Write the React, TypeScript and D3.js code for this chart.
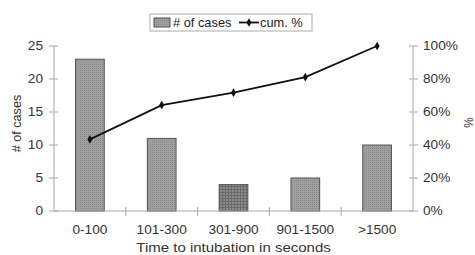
import React from 'react';
import * as d3 from 'd3';

const categories = ['0-100', '101-300', '301-900', '901-1500', '>1500'];
const cases = [23, 11, 4, 5, 10];
const cumPct = [43.4, 64.2, 71.7, 81.1, 100];
const leftTicks = [0, 5, 10, 15, 20, 25];
const rightTicks = [0, 20, 40, 60, 80, 100];

const W = 475;
const H = 255;
const margin = { top: 46, right: 62, bottom: 44, left: 54 };

const font = 'Liberation Sans, Arial, sans-serif';

// text with a slight horizontal stretch, like the scanned original
const label = (g, x, y, s, anchor, size = 12, sx = 1.14) =>
  g.append('text')
    .attr('transform', `translate(${x},${y}) scale(${sx},1)`)
    .attr('text-anchor', anchor)
    .attr('dy', '0.35em')
    .attr('font-family', font)
    .attr('font-size', size)
    .attr('fill', '#333')
    .text(s);

const App = () => {
  const svgRef = React.useRef(null);

  React.useEffect(() => {
    const svg = d3.select(svgRef.current);
    svg.selectAll('*').remove();

    const x0 = margin.left;
    const x1 = W - margin.right;
    const y0 = H - margin.bottom;
    const y1 = margin.top;

    const x = d3.scaleBand().domain(categories).range([x0, x1]).padding(0);
    const yL = d3.scaleLinear().domain([0, 25]).range([y0, y1]);
    const yR = d3.scaleLinear().domain([0, 100]).range([y0, y1]);

    const axisColor = '#a8a8a8';

    const defs = svg.append('defs');
    const pat = defs.append('pattern')
      .attr('id', 'dots').attr('width', 2).attr('height', 2)
      .attr('patternUnits', 'userSpaceOnUse');
    pat.append('rect').attr('width', 2).attr('height', 2).attr('fill', '#a0a0a0');
    pat.append('rect').attr('width', 1).attr('height', 1).attr('fill', '#888');
    const pat2 = defs.append('pattern')
      .attr('id', 'grid').attr('width', 3).attr('height', 3)
      .attr('patternUnits', 'userSpaceOnUse');
    pat2.append('rect').attr('width', 3).attr('height', 3).attr('fill', '#8a8a8a');
    pat2.append('rect').attr('width', 1).attr('height', 3).attr('fill', '#6a6a6a');
    pat2.append('rect').attr('width', 3).attr('height', 1).attr('fill', '#6a6a6a');

    // bars
    const bw = x.bandwidth() * 0.4;
    svg.selectAll('.bar')
      .data(cases)
      .join('rect')
      .attr('class', 'bar')
      .attr('x', (d, i) => x(categories[i]) + x.bandwidth() / 2 - bw / 2)
      .attr('y', d => yL(d))
      .attr('width', bw)
      .attr('height', d => y0 - yL(d))
      .attr('fill', (d, i) => (i === 2 ? 'url(#grid)' : 'url(#dots)'))
      .attr('stroke', '#555')
      .attr('stroke-width', 1);

    // left axis
    const gL = svg.append('g');
    gL.append('line').attr('x1', x0).attr('x2', x0).attr('y1', y1).attr('y2', y0).attr('stroke', axisColor);
    gL.selectAll('.t').data(leftTicks).join('line')
      .attr('x1', x0 - 5).attr('x2', x0 + 4)
      .attr('y1', d => yL(d)).attr('y2', d => yL(d))
      .attr('stroke', axisColor);
    leftTicks.forEach(d => label(gL, x0 - 11, yL(d), d, 'end'));

    // right axis
    const gR = svg.append('g');
    gR.append('line').attr('x1', x1).attr('x2', x1).attr('y1', y1).attr('y2', y0).attr('stroke', axisColor);
    gR.selectAll('.t').data(rightTicks).join('line')
      .attr('x1', x1 - 4).attr('x2', x1 + 5)
      .attr('y1', d => yR(d)).attr('y2', d => yR(d))
      .attr('stroke', axisColor);
    rightTicks.forEach(d => label(gR, x1 + 10, yR(d), `${d}%`, 'start'));

    // bottom axis
    const gB = svg.append('g');
    gB.append('line').attr('x1', x0).attr('x2', x1).attr('y1', y0).attr('y2', y0).attr('stroke', axisColor);
    const bounds = d3.range(1, categories.length).map(i => x(categories[i]));
    gB.selectAll('.t').data(bounds).join('line')
      .attr('x1', d => d).attr('x2', d => d)
      .attr('y1', y0 - 4).attr('y2', y0 + 5)
      .attr('stroke', axisColor);
    categories.forEach(c => label(gB, x(c) + x.bandwidth() / 2, y0 + 19, c, 'middle'));

    // cumulative line
    const line = d3.line<number>()
      .x((d, i) => x(categories[i]) + x.bandwidth() / 2)
      .y(d => yR(d));
    svg.append('path').datum(cumPct)
      .attr('d', line)
      .attr('fill', 'none').attr('stroke', '#111').attr('stroke-width', 1.8);
    svg.selectAll('.pt').data(cumPct).join('path')
      .attr('class', 'pt')
      .attr('transform', (d, i) => `translate(${x(categories[i]) + x.bandwidth() / 2},${yR(d)})`)
      .attr('d', d3.symbol(d3.symbolDiamond, 22))
      .attr('fill', '#111');

    // axis titles
    svg.append('text')
      .attr('transform', `translate(16,${(y0 + y1) / 2 - 5}) rotate(-90) scale(1.05,1.1)`)
      .attr('text-anchor', 'middle').attr('dy', '0.35em')
      .attr('font-family', font).attr('font-size', 12).attr('fill', '#333')
      .text('# of cases');
    svg.append('text')
      .attr('transform', `translate(469,${(y0 + y1) / 2 - 6}) rotate(90) scale(1,1.1)`)
      .attr('text-anchor', 'middle').attr('dy', '0.35em')
      .attr('font-family', font).attr('font-size', 12).attr('fill', '#333')
      .text('%');
    label(svg, (x0 + x1) / 2, 247.5, 'Time to intubation in seconds', 'middle', 12.5, 1.2);

    // legend
    const lg = svg.append('g');
    lg.append('rect').attr('x', 150).attr('y', 14).attr('width', 162).attr('height', 17)
      .attr('fill', '#fff').attr('stroke', '#aaa');
    lg.append('rect').attr('x', 154).attr('y', 18).attr('width', 16).attr('height', 9)
      .attr('fill', 'url(#dots)').attr('stroke', '#555');
    label(lg, 173, 22.5, '# of cases', 'start', 12, 1.07).attr('fill', '#222');
    lg.append('line').attr('x1', 239).attr('x2', 259).attr('y1', 22.5).attr('y2', 22.5)
      .attr('stroke', '#111').attr('stroke-width', 1.8);
    lg.append('path').attr('transform', 'translate(249,22.5)')
      .attr('d', d3.symbol(d3.symbolDiamond, 22)).attr('fill', '#111');
    label(lg, 260, 22.5, 'cum. %', 'start', 12, 1.07).attr('fill', '#222');
  }, []);

  return (
    <svg ref={svgRef} width={W} height={H}
      style={{ position: 'absolute', left: 0, top: 0, background: '#fff' }} />
  );
};

export default App;
